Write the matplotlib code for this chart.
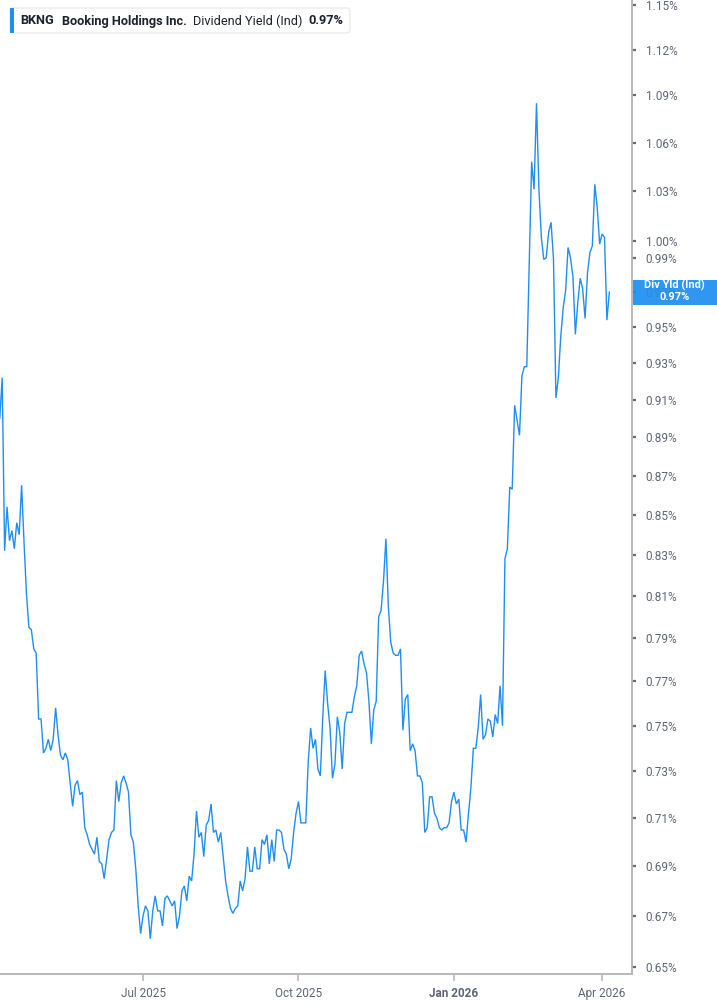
import matplotlib
matplotlib.use("Agg")
import matplotlib.pyplot as plt
import matplotlib.ticker as ticker
from matplotlib.patches import FancyBboxPatch, Rectangle
import numpy as np
import pandas as pd

plt.rcParams['font.family'] = ['Roboto', 'DejaVu Sans']

W, H = 717, 1005
BLUE = '#1f8ef1'

# market holidays inside the window (for the trading-day axis)
holidays = ["2025-04-18", "2025-05-26", "2025-06-19", "2025-07-04", "2025-09-01",
            "2025-11-27", "2025-12-25", "2026-01-01", "2026-01-19", "2026-02-16",
            "2026-04-03"]

# daily dividend yield (%)
div_yield = [
    0.900, 0.922, 0.832, 0.854, 0.837, 0.842, 0.833, 0.846, 0.840, 0.865, 0.836, 0.811,
    0.795, 0.794, 0.785, 0.783, 0.753, 0.753, 0.738, 0.740, 0.744, 0.739, 0.744, 0.758,
    0.746, 0.737, 0.735, 0.738, 0.735, 0.725, 0.715, 0.724, 0.726, 0.720, 0.721, 0.706,
    0.703, 0.699, 0.697, 0.695, 0.702, 0.692, 0.691, 0.685, 0.693, 0.701, 0.704, 0.705,
    0.726, 0.717, 0.725, 0.728, 0.725, 0.721, 0.703, 0.700, 0.689, 0.674, 0.663, 0.670,
    0.674, 0.672, 0.661, 0.672, 0.678, 0.672, 0.672, 0.666, 0.677, 0.678, 0.676, 0.674,
    0.676, 0.665, 0.670, 0.680, 0.682, 0.676, 0.686, 0.684, 0.695, 0.713, 0.702, 0.704,
    0.694, 0.707, 0.709, 0.716, 0.704, 0.705, 0.700, 0.704, 0.694, 0.684, 0.678, 0.673,
    0.671, 0.673, 0.674, 0.684, 0.680, 0.685, 0.698, 0.688, 0.688, 0.698, 0.689, 0.689,
    0.701, 0.699, 0.703, 0.691, 0.701, 0.692, 0.705, 0.705, 0.704, 0.697, 0.695, 0.689,
    0.693, 0.704, 0.712, 0.717, 0.708, 0.708, 0.708, 0.734, 0.749, 0.740, 0.744, 0.731,
    0.728, 0.754, 0.775, 0.760, 0.749, 0.727, 0.733, 0.754, 0.747, 0.731, 0.751, 0.756,
    0.756, 0.756, 0.763, 0.768, 0.782, 0.784, 0.778, 0.774, 0.761, 0.742, 0.757, 0.761,
    0.800, 0.803, 0.817, 0.838, 0.805, 0.788, 0.783, 0.782, 0.782, 0.785, 0.748, 0.762,
    0.764, 0.739, 0.742, 0.739, 0.728, 0.728, 0.725, 0.704, 0.706, 0.719, 0.719, 0.712,
    0.710, 0.706, 0.705, 0.706, 0.706, 0.708, 0.717, 0.721, 0.716, 0.718, 0.705, 0.705,
    0.700, 0.712, 0.723, 0.740, 0.740, 0.749, 0.764, 0.744, 0.746, 0.753, 0.752, 0.745,
    0.755, 0.751, 0.768, 0.750, 0.828, 0.833, 0.864, 0.863, 0.907, 0.899, 0.891, 0.923,
    0.928, 0.928, 0.986, 1.048, 1.031, 1.085, 1.031, 1.002, 0.989, 0.990, 1.005, 1.011,
    0.989, 0.911, 0.922, 0.945, 0.961, 0.971, 0.996, 0.990, 0.979, 0.946, 0.964, 0.978,
    0.972, 0.955, 0.981, 0.993, 0.997, 1.034, 1.020, 0.998, 1.004, 1.002, 0.954, 0.970,
]

y_ticks = [0.65, 0.67, 0.69, 0.71, 0.73, 0.75, 0.77, 0.79, 0.81, 0.83, 0.85, 0.87,
           0.89, 0.91, 0.93, 0.95, 0.97, 0.99, 1.00, 1.03, 1.06, 1.09, 1.12, 1.15]
x_tick_months = ["2025-07", "2025-10", "2026-01", "2026-04"]
x_tick_labels = ["Jul 2025", "Oct 2025", "Jan 2026", "Apr 2026"]

dates = pd.bdate_range(end="2026-04-07", periods=len(div_yield), freq="C",
                       holidays=holidays)
idx = np.arange(len(div_yield))

fig = plt.figure(figsize=(W / 100, H / 100), dpi=100)
ax = fig.add_axes([0, 31 / H, 631.7 / W, 1 - 31 / H])

ax.plot(idx, div_yield, color=BLUE, linewidth=1.0, solid_joinstyle='miter')

# log scale y axis on the right
ax.set_yscale('log')
ax.set_ylim(0.6473, 1.1535)
ax.set_xlim(0.1, 260.2)
ax.yaxis.set_major_locator(ticker.FixedLocator(y_ticks))
ax.yaxis.set_minor_locator(ticker.NullLocator())
ax.yaxis.set_major_formatter(ticker.FuncFormatter(lambda v, p: f"{v:.2f}%"))
ax.yaxis.tick_right()

# x ticks at first trading day of each quarter month
month_str = dates.strftime("%Y-%m")
x_pos = [int(np.argmax(month_str == m)) for m in x_tick_months]
ax.set_xticks(x_pos)
ax.set_xticklabels(x_tick_labels)
for lab in ax.get_xticklabels():
    if lab.get_text() == "Jan 2026":
        lab.set_fontweight('bold')
        lab.set_color('#3c4350')
        lab.set_fontsize(9.5)

ax.tick_params(axis='y', direction='out', length=3, width=1.6, color='#6b6b6b',
               pad=7, labelsize=8.5, labelcolor='#5d6676')
ax.tick_params(axis='x', direction='out', length=5, width=1.2, color='#b8b8b8',
               pad=4, labelsize=8.5, labelcolor='#5d6676')

for side in ['left', 'top']:
    ax.spines[side].set_visible(False)
for side in ['right', 'bottom']:
    ax.spines[side].set_color('#b8b8b8')
    ax.spines[side].set_linewidth(1.4)
ax.patch.set_visible(False)


def fx(x):
    return x / W


def fy(y):
    return 1 - y / H


# legend box top left
box = FancyBboxPatch((fx(10), fy(33)), fx(340), 25 / H,
                     boxstyle="round,pad=0,rounding_size=0.004",
                     transform=fig.transFigure, facecolor='white',
                     edgecolor='#e4e6ea', linewidth=0.8, zorder=5)
fig.patches.append(box)
fig.patches.append(Rectangle((fx(10), fy(33)), fx(3.5), 25 / H,
                             transform=fig.transFigure, facecolor=BLUE,
                             edgecolor='none', zorder=6))
last = div_yield[-1]
legend_parts = [(20.7, "BKNG", 'bold'), (62, "Booking Holdings Inc.", 'bold'),
                (193, "Dividend Yield (Ind)", 'normal'), (308, f"{last:.2f}%", 'bold')]
for xp, txt, wt in legend_parts:
    fig.text(fx(xp), fy(21), txt, fontsize=9.2, fontweight=wt, color='#1d2230',
             va='center', ha='left', zorder=7)

# last value tag on the right axis (covers the tick label under it)
fig.canvas.draw()
y_disp = ax.transData.transform((0, last))[1]
yc = y_disp / H
fig.patches.append(Rectangle((fx(632.5), yc - 12.5 / H), fx(W - 632.5), 25 / H,
                             transform=fig.transFigure, facecolor=BLUE,
                             edgecolor='none', alpha=0.93, zorder=6))
fig.text(fx(674.5), yc + 1 / H, "Div Yld (Ind)", color='white', fontsize=7.9,
         fontweight='bold', ha='center', va='bottom', zorder=7)
fig.text(fx(674.5), yc, f"{last:.2f}%", color='white', fontsize=7.9,
         fontweight='bold', ha='center', va='top', zorder=7)

fig.savefig("out.png", dpi=100)
